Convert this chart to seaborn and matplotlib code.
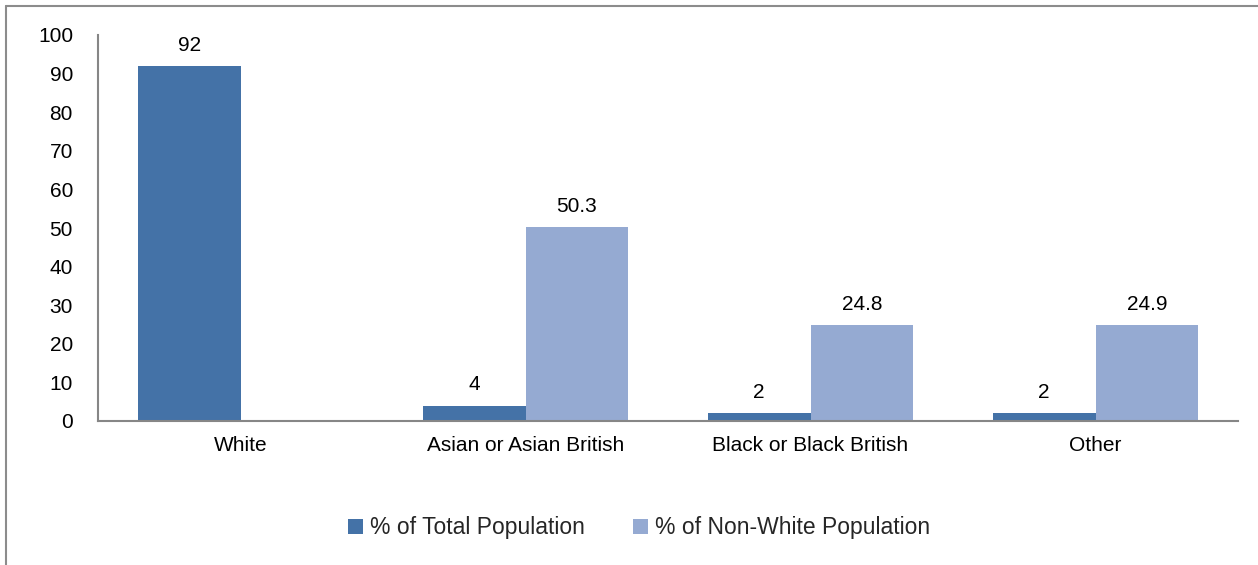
import matplotlib
matplotlib.use("Agg")
import matplotlib.pyplot as plt
from matplotlib.lines import Line2D
import seaborn as sns
import pandas as pd
import numpy as np

categories = ["White", "Asian or Asian British", "Black or Black British", "Other"]
total_pct = [92, 4, 2, 2]
non_white_pct = [np.nan, 50.3, 24.8, 24.9]
series_names = ["% of Total Population", "% of Non-White Population"]
y_ticks = [0, 10, 20, 30, 40, 50, 60, 70, 80, 90, 100]

df = pd.DataFrame({
    "category": categories * 2,
    "series": [series_names[0]] * 4 + [series_names[1]] * 4,
    "value": total_pct + non_white_pct,
})

sns.set_style("white")
plt.rcParams["font.family"] = ["Liberation Sans", "DejaVu Sans"]

fig = plt.figure(figsize=(12.58, 5.65), dpi=100)
ax = fig.add_axes([98 / 1258, 1 - 421 / 565, 1140 / 1258, 386 / 565])

sns.barplot(data=df, x="category", y="value", hue="series", order=categories,
            hue_order=series_names, palette=["#4472A7", "#95AAD2"],
            width=0.72, saturation=1, errorbar=None, linewidth=0, ax=ax)

for cont in ax.containers:
    labels = ["" if np.isnan(v) else f"{v:g}" for v in cont.datavalues]
    ax.bar_label(cont, labels=labels, padding=8, fontsize=15, color="black")

ax.set_ylim(0, 100)
ax.set_yticks(y_ticks)
ax.set_xlim(-0.5, len(categories) - 0.5)
ax.set_xlabel("")
ax.set_ylabel("")
ax.tick_params(axis="both", length=0, labelsize=15, colors="black")
ax.tick_params(axis="x", pad=11)
ax.tick_params(axis="y", pad=18)
for side in ["top", "right"]:
    ax.spines[side].set_visible(False)
for side in ["left", "bottom"]:
    ax.spines[side].set_color("#868686")
    ax.spines[side].set_linewidth(1.5)

ax.legend(loc="center", bbox_to_anchor=(0.4746, -0.277), ncol=2, frameon=False,
          fontsize=16.5, handlelength=0.66, handleheight=0.66, handletextpad=0.3,
          columnspacing=2.1)

# chart frame edges
fig.add_artist(Line2D([6 / 1258, 1.0], [1 - 6 / 565] * 2, color="#8c8c8c", lw=1.5))
fig.add_artist(Line2D([6 / 1258] * 2, [0.0, 1 - 6 / 565], color="#8c8c8c", lw=1.5))

fig.savefig("out.png", dpi=100)
